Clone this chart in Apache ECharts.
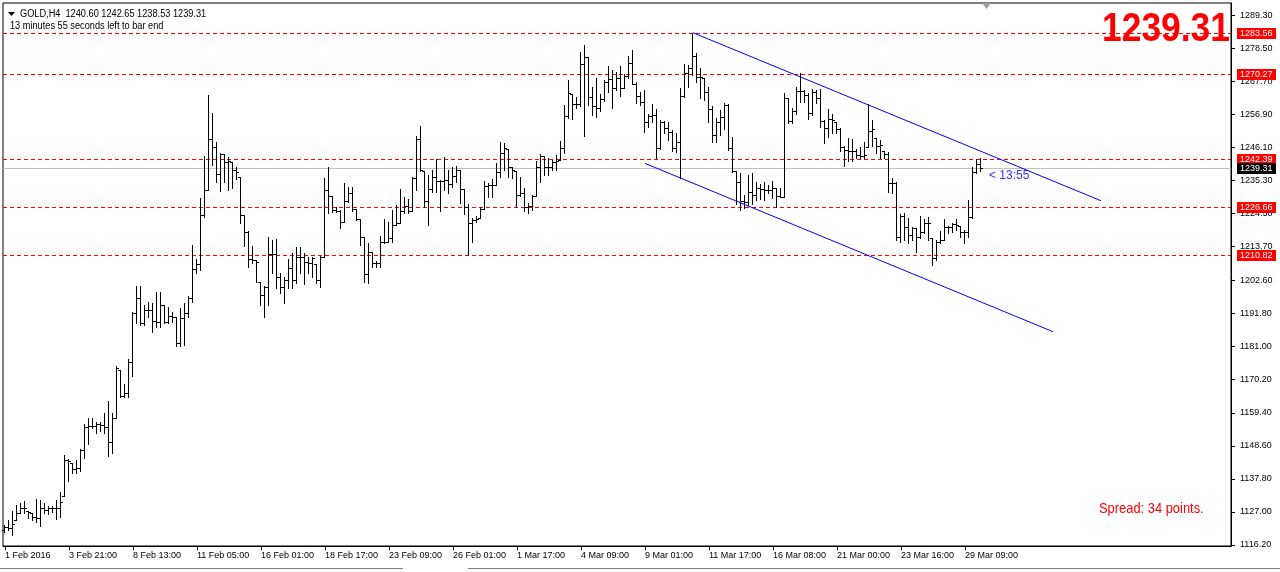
<!DOCTYPE html>
<html><head><meta charset="utf-8">
<script src="https://cdn.jsdelivr.net/npm/echarts@6/dist/echarts.min.js"></script>
<style>html,body{margin:0;padding:0;background:#fff}#c{width:1280px;height:572px}</style>
</head><body><div id="c"></div>
<script>
const symbolTitle = 'GOLD,H4';
const timerText = '13 minutes 55 seconds left to bar end';
const spreadText = 'Spread: 34 points.';
const countdownText = '< 13:55';

const open = [1121.2,1122.0,1121.7,1124.4,1126.6,1128.2,1127.3,1126.6,1125.4,1124.9,1128.4,1127.6,1128.2,1128.2,1128.4,1132.2,1144.0,1142.9,1140.9,1141.3,
1147.2,1154.9,1155.1,1155.1,1155.7,1155.4,1154.9,1149.8,1157.6,1173.4,1164.9,1165.8,1176.1,1191.9,1197.0,1188.9,1193.0,1193.0,1189.5,1189.2,
1194.6,1189.2,1191.0,1190.8,1182.1,1190.3,1191.9,1196.8,1206.4,1208.0,1224.1,1232.2,1248.8,1246.2,1237.3,1243.9,1241.5,1241.5,1238.7,1236.4,
1224.1,1218.6,1209.6,1209.3,1202.0,1197.9,1200.6,1211.2,1211.2,1203.9,1200.4,1202.8,1206.6,1202.8,1210.4,1210.4,1208.8,1208.5,1208.0,1202.8,
1210.4,1232.2,1230.4,1225.7,1225.5,1221.9,1228.7,1231.3,1225.9,1222.6,1216.9,1204.6,1212.1,1208.5,1208.3,1215.1,1215.3,1216.4,1220.8,1221.5,
1225.2,1227.0,1225.2,1236.0,1248.8,1238.5,1228.7,1232.4,1236.4,1235.3,1235.3,1235.5,1234.2,1236.8,1238.7,1232.4,1226.8,1221.5,1222.4,1223.0,
1225.9,1233.5,1233.8,1233.8,1238.2,1244.4,1245.5,1239.6,1238.5,1230.5,1231.3,1226.8,1227.0,1230.3,1239.6,1243.3,1239.6,1239.6,1241.2,1242.0,
1245.8,1256.5,1263.5,1260.2,1260.2,1273.3,1275.8,1262.7,1259.5,1258.9,1261.9,1267.6,1268.5,1265.6,1268.7,1265.6,1269.6,1273.6,1266.8,1263.0,
1261.1,1254.3,1256.5,1256.7,1245.8,1254.5,1252.4,1251.1,1245.8,1247.8,1263.0,1270.4,1272.2,1276.1,1269.3,1268.9,1264.3,1258.7,1250.2,1254.5,
1256.2,1260.0,1245.8,1238.4,1234.9,1228.6,1228.4,1231.7,1230.6,1232.8,1232.4,1232.2,1232.2,1232.8,1230.3,1230.0,1262.2,1254.9,1258.1,1264.7,
1264.7,1263.3,1257.5,1264.3,1262.2,1254.9,1252.4,1255.4,1254.5,1252.1,1246.2,1245.3,1245.0,1245.0,1243.7,1243.3,1246.3,1251.5,1249.1,1246.6,
1245.0,1243.9,1234.6,1234.6,1217.0,1223.7,1220.2,1217.5,1219.7,1217.0,1218.6,1221.5,1216.4,1209.9,1215.3,1215.9,1220.2,1220.2,1221.1,1220.4,
1218.6,1218.6,1223.5,1238.2,1240.60];
const high = [1122.7,1124.4,1127.3,1129.3,1130.0,1130.7,1127.3,1126.6,1131.2,1130.9,1129.8,1128.9,1128.9,1130.9,1133.4,1145.6,1144.3,1142.9,1144.0,1147.5,
1155.7,1157.6,1157.6,1156.5,1156.5,1159.2,1163.3,1159.2,1174.8,1173.4,1168.8,1177.0,1192.4,1200.8,1200.8,1194.6,1195.7,1195.2,1198.8,1198.8,
1194.6,1194.1,1192.4,1190.8,1193.5,1195.2,1197.6,1214.2,1209.6,1229.7,1243.3,1263.3,1257.3,1247.8,1244.4,1243.9,1242.9,1241.5,1239.6,1236.4,
1224.1,1218.9,1214.0,1209.3,1202.0,1200.8,1216.9,1215.9,1216.1,1205.2,1203.9,1209.6,1211.7,1213.7,1213.7,1211.7,1210.2,1210.4,1208.0,1210.6,
1236.0,1239.6,1230.4,1226.7,1225.7,1234.6,1233.1,1233.1,1225.9,1222.6,1216.9,1214.8,1212.1,1209.1,1217.2,1222.6,1221.9,1225.7,1227.3,1232.4,
1229.8,1229.2,1236.6,1249.9,1253.1,1238.5,1237.1,1238.7,1242.3,1235.5,1242.9,1238.7,1239.6,1240.1,1238.7,1232.4,1227.6,1223.0,1223.7,1226.8,
1235.3,1234.6,1235.7,1240.9,1248.0,1247.5,1245.5,1239.6,1238.5,1236.6,1232.8,1227.9,1230.6,1241.8,1243.9,1243.3,1242.6,1242.0,1243.6,1248.2,
1260.0,1268.2,1263.5,1262.7,1277.4,1279.6,1275.8,1266.0,1268.7,1263.5,1268.2,1272.8,1271.4,1270.7,1272.8,1270.0,1276.1,1278.0,1267.4,1264.3,
1264.9,1256.9,1260.2,1258.7,1255.1,1254.8,1254.3,1251.8,1250.7,1265.6,1273.3,1273.1,1283.6,1276.9,1272.2,1268.9,1266.0,1259.5,1255.6,1258.4,
1260.6,1260.2,1249.6,1238.4,1237.7,1230.6,1237.1,1237.7,1234.9,1234.1,1234.9,1233.8,1235.3,1232.8,1232.8,1263.8,1262.2,1258.9,1266.0,1270.3,
1264.9,1263.8,1265.1,1264.9,1265.1,1255.1,1258.6,1257.1,1254.5,1252.4,1246.6,1249.1,1248.8,1245.5,1246.2,1248.0,1260.3,1255.1,1249.1,1248.6,
1245.0,1244.7,1236.0,1234.9,1224.4,1224.6,1223.0,1220.2,1219.7,1223.7,1222.6,1223.5,1216.4,1215.9,1218.9,1222.6,1220.4,1221.5,1222.6,1220.4,
1219.1,1228.9,1239.8,1242.2,1242.65];
const low = [1120.5,1121.1,1119.5,1124.4,1126.6,1126.6,1124.9,1124.4,1123.6,1122.5,1126.6,1126.2,1126.9,1124.6,1125.4,1132.2,1137.1,1139.6,1139.6,1140.5,
1144.7,1149.1,1154.3,1152.9,1153.6,1152.9,1145.4,1146.4,1157.6,1164.5,1164.5,1164.5,1171.5,1188.7,1188.1,1188.1,1190.8,1185.7,1187.5,1187.5,
1188.7,1188.7,1189.2,1181.3,1181.3,1181.6,1190.8,1195.7,1205.0,1206.1,1223.5,1232.2,1240.4,1234.9,1232.0,1234.9,1232.2,1232.8,1235.7,1221.5,
1214.0,1207.1,1208.3,1202.0,1194.6,1190.8,1194.6,1205.0,1200.1,1198.5,1195.4,1200.1,1200.1,1201.7,1205.0,1201.5,1205.0,1203.9,1201.7,1200.6,
1210.2,1224.6,1224.9,1224.9,1219.7,1221.9,1228.4,1225.2,1222.4,1214.2,1202.2,1201.7,1207.1,1207.1,1206.9,1214.8,1215.3,1215.3,1220.8,1221.3,
1224.6,1224.8,1225.2,1232.2,1238.5,1226.6,1220.8,1231.7,1231.7,1225.2,1232.2,1231.1,1233.3,1234.9,1227.8,1224.4,1211.0,1215.3,1221.9,1223.0,
1225.9,1229.8,1229.8,1233.8,1236.6,1238.9,1236.6,1236.0,1226.6,1230.4,1225.2,1224.6,1225.7,1230.3,1234.9,1237.1,1237.1,1238.7,1238.9,1242.0,
1244.2,1255.6,1255.4,1258.9,1259.5,1249.9,1260.0,1256.7,1256.2,1258.0,1261.3,1264.3,1259.1,1264.9,1263.0,1265.4,1268.7,1266.8,1260.5,1260.0,
1251.1,1252.9,1254.3,1242.6,1245.6,1250.7,1248.6,1245.0,1244.5,1236.2,1262.7,1266.0,1269.7,1267.4,1262.2,1261.6,1254.3,1247.8,1247.8,1250.2,
1252.2,1245.3,1238.2,1227.5,1225.7,1226.4,1227.3,1227.5,1228.9,1229.3,1228.9,1231.1,1229.5,1226.8,1229.8,1229.8,1254.1,1254.1,1257.1,1261.1,
1261.1,1255.3,1256.7,1260.7,1252.9,1247.5,1249.6,1250.7,1250.9,1244.8,1240.1,1241.8,1241.8,1242.6,1242.6,1242.6,1246.3,1246.6,1244.2,1242.6,
1242.6,1231.7,1231.3,1215.9,1215.3,1215.9,1214.8,1215.9,1212.1,1216.4,1218.3,1215.9,1207.7,1209.3,1215.0,1215.9,1218.1,1218.6,1219.1,1216.9,
1215.0,1216.9,1222.9,1237.7,1238.53];
const close = [1122.0,1121.7,1123.0,1126.6,1128.2,1128.2,1126.9,1125.4,1124.9,1128.4,1127.6,1128.2,1128.2,1128.4,1130.4,1144.0,1143.7,1140.9,1141.3,1147.2,
1154.9,1155.1,1155.1,1155.7,1155.4,1154.9,1149.8,1157.6,1174.0,1164.9,1165.8,1176.1,1191.9,1197.0,1188.9,1193.0,1193.0,1189.5,1189.2,1194.6,
1189.2,1191.0,1190.8,1182.1,1190.3,1191.9,1196.8,1206.4,1208.0,1224.1,1232.2,1248.8,1246.2,1237.3,1243.9,1241.5,1241.7,1238.7,1238.2,1224.1,
1218.6,1209.6,1209.3,1208.8,1197.9,1200.6,1211.2,1211.2,1203.9,1200.4,1202.8,1206.6,1202.8,1210.4,1210.4,1208.8,1208.5,1209.9,1202.8,1210.4,
1232.2,1230.4,1225.7,1225.5,1221.9,1228.7,1231.3,1225.9,1222.6,1216.9,1204.6,1212.1,1208.5,1208.3,1215.1,1215.3,1216.4,1220.8,1221.5,1225.2,
1227.0,1225.2,1236.0,1248.8,1238.7,1228.7,1232.4,1236.4,1235.3,1235.3,1235.5,1234.2,1236.8,1238.7,1232.4,1226.8,1221.5,1222.4,1222.6,1225.9,
1233.5,1233.8,1233.8,1238.2,1244.4,1245.9,1239.6,1238.7,1230.5,1231.3,1226.8,1227.0,1230.3,1239.6,1243.3,1239.6,1239.6,1241.2,1241.8,1245.8,
1256.5,1263.8,1260.2,1260.2,1273.3,1275.8,1262.7,1259.5,1258.9,1261.9,1267.6,1268.5,1265.6,1268.7,1265.6,1269.6,1273.6,1266.8,1263.0,1261.1,
1254.3,1256.5,1256.7,1245.8,1254.5,1252.4,1251.1,1245.8,1247.8,1263.0,1270.4,1272.2,1276.1,1269.3,1269.3,1264.3,1258.7,1250.2,1254.5,1256.2,
1260.0,1245.8,1238.4,1234.9,1228.6,1228.4,1231.7,1230.6,1232.8,1232.4,1232.2,1232.2,1232.8,1230.3,1230.0,1262.2,1254.9,1258.1,1264.7,1264.7,
1263.3,1257.5,1264.3,1262.2,1254.9,1252.4,1255.4,1255.1,1252.1,1246.2,1245.3,1245.0,1245.0,1243.7,1243.3,1243.7,1251.5,1252.0,1246.6,1246.9,
1243.9,1234.6,1234.6,1217.0,1223.7,1220.2,1217.5,1219.7,1217.0,1218.6,1221.5,1221.5,1209.9,1215.3,1215.9,1220.2,1220.2,1221.1,1220.8,1218.6,
1218.6,1223.5,1238.2,1240.6,1239.31];

const tickLabels = ['1 Feb 2016','3 Feb 21:00','8 Feb 13:00','11 Feb 05:00','16 Feb 01:00','18 Feb 17:00','23 Feb 09:00','26 Feb 01:00',
  '1 Mar 17:00','4 Mar 09:00','9 Mar 01:00','11 Mar 17:00','16 Mar 08:00','21 Mar 00:00','23 Mar 16:00','29 Mar 09:00'];
const barsPerLabel = 16;
const totalSlots = 307;

const priceTicks = [1116.20, 1127.00, 1137.80, 1148.60, 1159.40, 1170.20, 1181.00, 1191.80, 1202.60,
  1213.70, 1224.50, 1235.30, 1246.10, 1256.90, 1267.70, 1278.50, 1289.30];

const levelLines = [1283.56, 1270.27, 1242.39, 1226.66, 1210.82];
const lastPrice = 1239.31;
const channelUpper = [[172, 1283.6], [274, 1228.7]];
const channelLower = [[160, 1240.9], [262, 1185.9]];

const yMin = 1115.87, yMax = 1293.32;

const categories = [];
for (let i = 0; i < totalSlots; i++) categories.push(String(i));
const ohlc = open.map((o, i) => [i, o, high[i], low[i], close[i]]);
const last = close.length - 1;
const showTick = (idx) => idx % barsPerLabel === 0 && idx / barsPerLabel < tickLabels.length;
const FONT = '"Liberation Sans", Arial, sans-serif';

// horizontal price level with a boxed price tag on the price scale
function levelRenderer(lineColor, dash, boxColor) {
  return function (params, api) {
    const cs = params.coordSys;
    const v = api.value(0);
    const y = Math.round(api.coord([0, v])[1]) + 0.5;
    const right = cs.x + cs.width;
    return {type: 'group', children: [
      {type: 'line', shape: {x1: cs.x, y1: y, x2: right, y2: y},
        style: {stroke: lineColor, lineWidth: 1, lineDash: dash}},
      {type: 'rect', shape: {x: right + 6, y: y - 5.5, width: 39, height: 11}, style: {fill: boxColor}, z2: 10},
      {type: 'text', x: right + 9, y: y + 0.5, z2: 11, style: {text: v.toFixed(2), fill: '#fff', font: '9px ' + FONT,
        textVerticalAlign: 'middle', textAlign: 'left'}}
    ]};
  };
}

const chart = echarts.init(document.getElementById('c'), null, {renderer: 'canvas'});
const option = {
  animation: false,
  backgroundColor: '#fff',
  grid: {left: 3, right: 49, top: 3, bottom: 26, show: true, borderColor: '#000', borderWidth: 1},
  xAxis: {
    type: 'category', data: categories, boundaryGap: true,
    axisLine: {show: true, lineStyle: {color: '#000', width: 1}},
    axisTick: {show: true, alignWithLabel: true, interval: showTick, length: 4, lineStyle: {color: '#000'}},
    axisLabel: {interval: showTick, formatter: (v, idx) => tickLabels[Math.round(idx / barsPerLabel)] || '',
      align: 'left', margin: 5, fontSize: 9, color: '#000', fontFamily: FONT},
    splitLine: {show: false}
  },
  yAxis: {
    type: 'value', position: 'right', min: yMin, max: yMax,
    axisLine: {show: true, lineStyle: {color: '#000', width: 1}},
    axisTick: {show: true, length: 4, customValues: priceTicks, lineStyle: {color: '#000'}},
    axisLabel: {customValues: priceTicks, formatter: v => Number(v).toFixed(2), margin: 9, fontSize: 9, color: '#000', fontFamily: FONT},
    splitLine: {show: false}
  },
  series: [
    {
      type: 'custom', data: levelLines.map(v => [v]), encode: {y: 0}, silent: true, z: 2, clip: false,
      renderItem: levelRenderer('#ff0000', [4, 3], '#ff0000')
    },
    {
      type: 'custom', data: [[lastPrice]], encode: {y: 0}, silent: true, z: 2, clip: false,
      renderItem: levelRenderer('#c0c0c0', null, '#000000')
    },
    {
      type: 'custom', data: ohlc, encode: {x: 0, y: [1, 2, 3, 4]}, silent: true, z: 3,
      renderItem: function (params, api) {
        const i = api.value(0);
        const ph = api.coord([i, api.value(2)]);
        const pl = api.coord([i, api.value(3)]);
        const po = api.coord([i, api.value(1)]);
        const pc = api.coord([i, api.value(4)]);
        const X = Math.round(ph[0]) - 0.5;
        const st = {stroke: '#000', lineWidth: 1};
        const yo = Math.round(po[1]) + 0.5, yc = Math.round(pc[1]) + 0.5;
        return {type: 'group', children: [
          {type: 'line', shape: {x1: X, y1: Math.round(ph[1]), x2: X, y2: Math.round(pl[1]) + 1}, style: st},
          {type: 'line', shape: {x1: X - 2.5, y1: yo, x2: X - 0.5, y2: yo}, style: st},
          {type: 'line', shape: {x1: X + 0.5, y1: yc, x2: X + 2.5, y2: yc}, style: st}
        ]};
      }
    },
    {
      type: 'line', data: channelUpper, symbol: 'none', silent: true, z: 4,
      lineStyle: {color: '#0000ff', width: 1}
    },
    {
      type: 'line', data: channelLower, symbol: 'none', silent: true, z: 4,
      lineStyle: {color: '#0000ff', width: 1}
    }
  ],
  graphic: [
    {type: 'polygon', shape: {points: [[8, 12], [15, 12], [11.5, 16]]}, style: {fill: '#000'}},
    {type: 'text', x: 20, y: 14, scaleX: 0.92, style: {
      text: symbolTitle + '  ' + open[last].toFixed(2) + ' ' + high[last].toFixed(2) + ' ' + low[last].toFixed(2) + ' ' + close[last].toFixed(2),
      font: '10px ' + FONT, fill: '#000', textVerticalAlign: 'middle'}},
    {type: 'text', x: 10, y: 26, scaleX: 0.92, style: {text: timerText, font: '10px ' + FONT, fill: '#000', textVerticalAlign: 'middle'}},
    {type: 'text', x: 1230, y: 30, scaleX: 0.885, style: {text: close[last].toFixed(2), font: 'bold 40px ' + FONT, fill: '#ff0000', textAlign: 'right', textVerticalAlign: 'middle'}},
    {type: 'text', x: 989, y: 176, style: {text: countdownText, font: '12px ' + FONT, fill: '#3333ff', textVerticalAlign: 'middle'}},
    {type: 'text', x: 1099, y: 509, scaleX: 0.86, style: {text: spreadText, font: '15px ' + FONT, fill: '#ff0000', textVerticalAlign: 'middle'}},
    {type: 'polygon', shape: {points: [[982, 3], [991, 3], [986.5, 9]]}, style: {fill: '#a0a0a0'}},
    {type: 'line', shape: {x1: 0, y1: 568.5, x2: 403, y2: 568.5}, style: {stroke: '#808080', lineWidth: 1}},
    {type: 'line', shape: {x1: 468, y1: 568.5, x2: 1280, y2: 568.5}, style: {stroke: '#808080', lineWidth: 1}}
  ]
};
chart.setOption(option);
</script>
</body></html>
